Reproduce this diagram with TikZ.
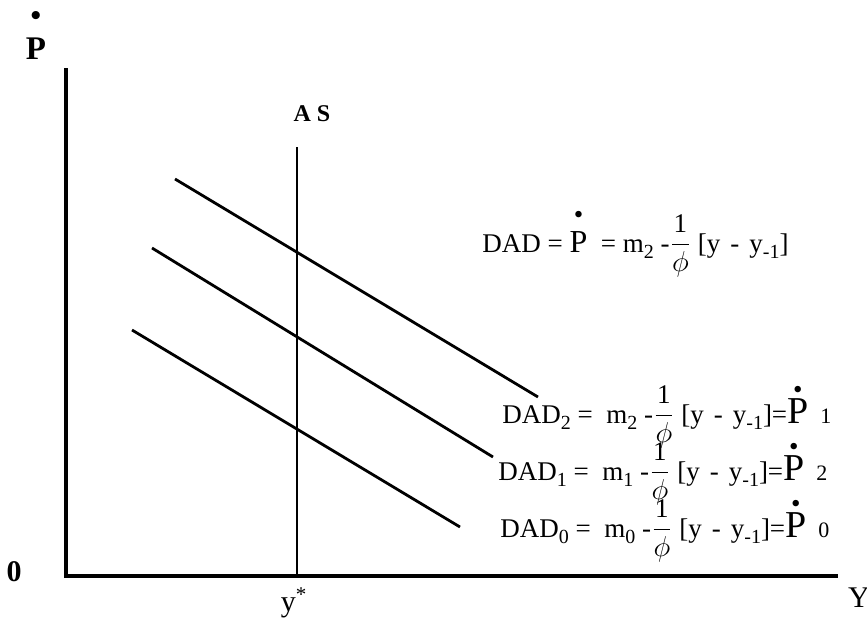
\documentclass[tikz,border=0pt]{standalone}
\usepackage{amsmath}
\usepackage{fontspec}
\setmainfont{Liberation Serif}
\usetikzlibrary{positioning}

% P with a bullet on top: size of P, gap below the bullet
\newcommand{\dotP}[2]{\leavevmode\vbox{\offinterlineskip\halign{\hfil##\hfil\cr\textbullet\cr\noalign{\kern#2}\fontsize{#1}{#1}\selectfont P\cr}}}
\newcommand{\invphi}{$\dfrac{\text{1}}{\phi}$}
\newcommand{\lowidx}[1]{\raisebox{-0.25em}{\fontsize{10}{10}\selectfont #1}}
\newcommand{\gapterm}{[y\hspace{5pt}-\hspace{5pt}y\lowidx{-1}]}

\begin{document}
\begin{tikzpicture}[
    x=0.5pt, y=-0.5pt,
    axis/.style={line width=1.6pt},
    curve/.style={line width=1.4pt},
    axlbl/.style={font=\fontsize{15}{17}\selectfont\bfseries, inner sep=0pt},
    eqlbl/.style={font=\fontsize{13.5}{16}\selectfont, anchor=base west, inner sep=0pt}
  ]
  \useasboundingbox (0,0) rectangle (867,621);

  % Axes
  \coordinate (org) at (66,576);
  \coordinate (ytop) at (66,68);
  \coordinate (xend) at (838,576);
  \draw[axis] (ytop) -- (org) -- (xend);

  \node[axlbl, anchor=base] (plbl) at (36,59) {\dotP{16.5}{6pt}};
  \node[axlbl] (zero) at (14,572) {0};
  \node[font=\fontsize{15}{17}\selectfont, inner sep=0pt] (ylbl) at (859,598) {Y};
  \node[font=\fontsize{15}{17}\selectfont, inner sep=0pt] (ystar) at (294,603) {y\textsuperscript{*}};

  % Long-run supply
  \coordinate (astop) at (297,147);
  \coordinate (asbot) at (297,576);
  \draw[line width=1.2pt] (astop) -- (asbot);
  \node[font=\fontsize{12}{14}\selectfont\bfseries, inner sep=0pt] (aslbl) at (312,114) {A\hspace{3pt}S};

  % Demand curves
  \coordinate (d2s) at (175,179);
  \coordinate (d2e) at (538,397);
  \coordinate (d1s) at (152,248);
  \coordinate (d1e) at (493,457);
  \coordinate (d0s) at (132,330);
  \coordinate (d0e) at (460,527);
  \draw[curve] (d2s) -- (d2e);
  \draw[curve] (d1s) -- (d1e);
  \draw[curve] (d0s) -- (d0e);

  % Equations
  \node[eqlbl] (dad) at (482,252)
    {DAD = \dotP{16}{4pt}\ \ = m\lowidx{2} -\invphi{} \gapterm};
  \node[eqlbl] (dad2) at (502,423)
    {DAD\lowidx{2} =\ \ m\lowidx{2} -\invphi{} \gapterm=\dotP{19}{0pt}\hspace{6pt}{\fontsize{11}{11}\selectfont 1}};
  \node[eqlbl] (dad1) at (498,480)
    {DAD\lowidx{1} =\ \ m\lowidx{1} -\invphi{} \gapterm=\dotP{19}{0pt}\hspace{6pt}{\fontsize{11}{11}\selectfont 2}};
  \node[eqlbl] (dad0) at (500,537)
    {DAD\lowidx{0} =\ \ m\lowidx{0} -\invphi{} \gapterm=\dotP{19}{0pt}\hspace{6pt}{\fontsize{11}{11}\selectfont 0}};
\end{tikzpicture}
\end{document}
